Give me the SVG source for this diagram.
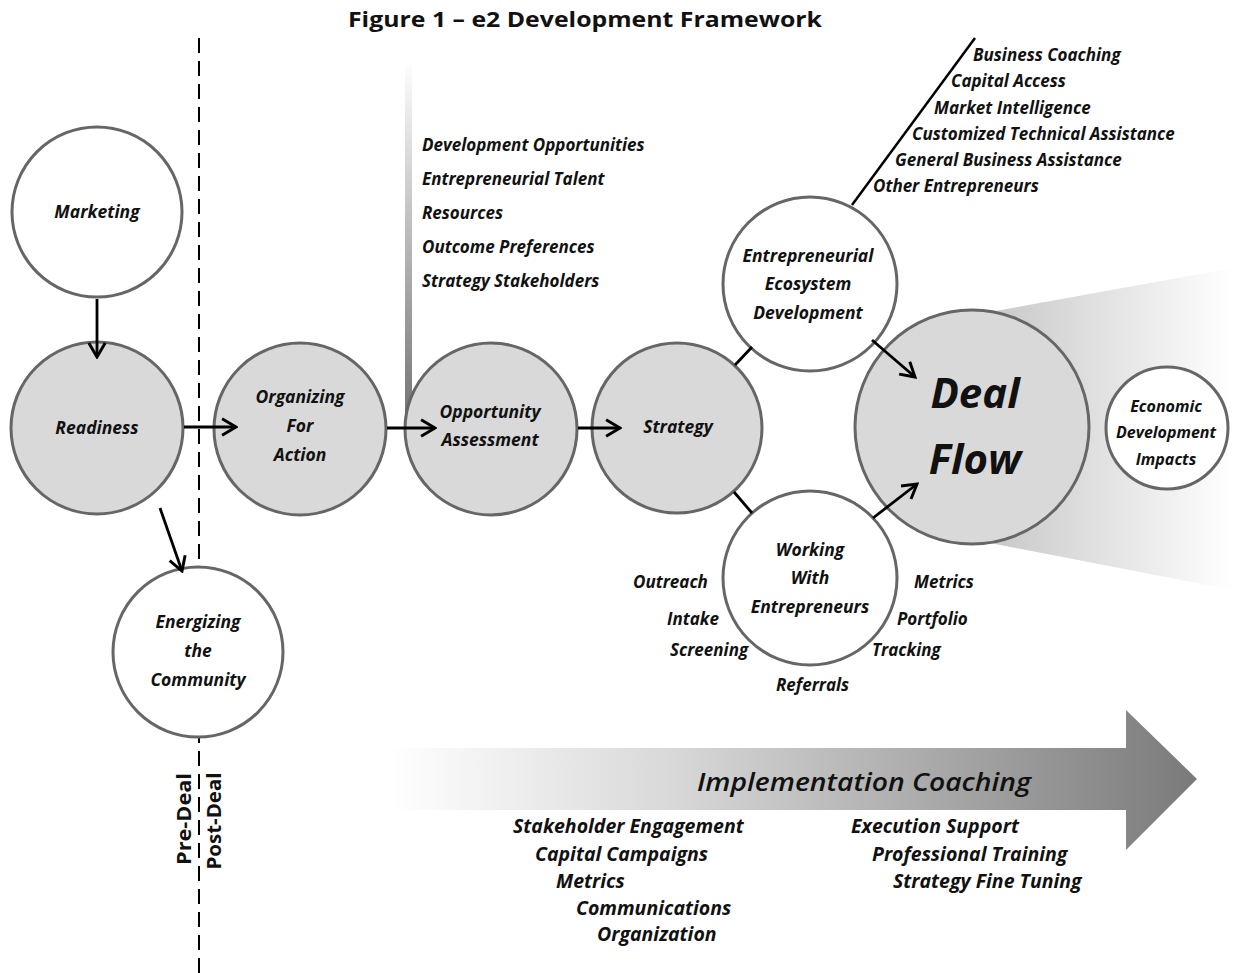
<svg xmlns="http://www.w3.org/2000/svg" width="1233" height="973" viewBox="0 0 1233 973">
<style>
.t{font-family:"Open Sans","Liberation Sans",sans-serif;font-weight:bold;font-style:italic;fill:#111;text-anchor:middle}
.s{font-size:17.5px}
.l{font-family:"Open Sans","Liberation Sans",sans-serif;font-weight:bold;font-style:italic;fill:#111;font-size:17px}
.b{font-size:19.5px}
.nw{fill:#fff;stroke:#666;stroke-width:3}
.ng{fill:#d9d9d9;stroke:#666;stroke-width:3}
.c{stroke:#000;stroke-width:2.8;fill:none}
.ca{stroke:#000;stroke-width:2.8;fill:none;marker-end:url(#ah)}
</style>
<defs>
<marker id="ah" viewBox="0 0 12 12" refX="10.5" refY="6" markerWidth="7" markerHeight="7" orient="auto" markerUnits="strokeWidth">
<path d="M2,1 L10.5,6 L2,11" fill="none" stroke="#000" stroke-width="1.8"/>
</marker>
<linearGradient id="vbar" x1="0" y1="0" x2="0" y2="1">
<stop offset="0" stop-color="#fff"/>
<stop offset="1" stop-color="#6f6f6f"/>
</linearGradient>
<linearGradient id="cone" x1="0" y1="0" x2="1" y2="0">
<stop offset="0" stop-color="#c8c8c8"/>
<stop offset="1" stop-color="#fff"/>
</linearGradient>
<linearGradient id="impl" x1="390" y1="0" x2="1197" y2="0" gradientUnits="userSpaceOnUse">
<stop offset="0" stop-color="#fff"/>
<stop offset="0.35" stop-color="#d8d8d8"/>
<stop offset="1" stop-color="#7a7a7a"/>
</linearGradient>
</defs>

<text x="585" y="27" font-family="'Open Sans','Liberation Sans',sans-serif" font-weight="bold" font-size="21" text-anchor="middle" fill="#111" textLength="474" lengthAdjust="spacingAndGlyphs">Figure 1 – e2 Development Framework</text>

<!-- background decorations -->
<g id="decor">
<polygon points="990,312 1233,268 1233,590 990,543" fill="url(#cone)"/>
<rect x="405" y="60" width="7" height="370" fill="url(#vbar)"/>
<line x1="199" y1="38" x2="199" y2="973" stroke="#000" stroke-width="2" stroke-dasharray="15,8"/>
<polygon points="390,748 1126,748 1126,710 1197,779 1126,850 1126,810 390,810" fill="url(#impl)"/>
<line x1="975" y1="38" x2="852" y2="205" stroke="#000" stroke-width="2.5"/>
</g>

<g id="marketing"><circle class="nw" cx="97" cy="212" r="85"/><text class="t s" x="97" y="218">Marketing</text></g>
<g id="readiness"><circle class="ng" cx="97" cy="428" r="86"/><text class="t s" x="97" y="434">Readiness</text></g>
<g id="organizing"><circle class="ng" cx="300" cy="429" r="86"/>
<text class="t s" x="300" y="403">Organizing</text><text class="t s" x="300" y="432">For</text><text class="t s" x="300" y="461">Action</text></g>
<g id="opportunity"><circle class="ng" cx="491" cy="429" r="86"/>
<text class="t s" x="490" y="418">Opportunity</text><text class="t s" x="490" y="446">Assessment</text></g>
<g id="strategy"><circle class="ng" cx="677" cy="428" r="85"/><text class="t s" x="678" y="433">Strategy</text></g>
<g id="ecosystem"><circle class="nw" cx="810" cy="284" r="87"/>
<text class="t s" x="808" y="262">Entrepreneurial</text><text class="t s" x="808" y="290">Ecosystem</text><text class="t s" x="808" y="319">Development</text></g>
<g id="working"><circle class="nw" cx="810" cy="578" r="87"/>
<text class="t s" x="810" y="556">Working</text><text class="t s" x="810" y="584">With</text><text class="t s" x="810" y="613">Entrepreneurs</text></g>
<g id="energizing"><circle class="nw" cx="198" cy="652" r="85"/>
<text class="t s" x="198" y="628">Energizing</text><text class="t s" x="198" y="657">the</text><text class="t s" x="198" y="686">Community</text></g>
<g id="dealflow"><circle class="ng" cx="972" cy="427" r="117"/>
<text class="t" x="975" y="408" font-size="42">Deal</text><text class="t" x="975" y="474" font-size="42">Flow</text></g>
<g id="impacts"><circle class="nw" cx="1167" cy="428" r="61"/>
<text class="t" x="1166" y="412" font-size="16" font-weight="600">Economic</text><text class="t" x="1166" y="438" font-size="16" font-weight="600">Development</text><text class="t" x="1166" y="465" font-size="16" font-weight="600">Impacts</text></g>

<!-- connectors -->
<g id="connectors">
<line class="ca" x1="97" y1="299" x2="97" y2="357"/>
<line class="ca" x1="184" y1="427" x2="236" y2="427"/>
<line class="ca" x1="387" y1="428" x2="435" y2="428"/>
<line class="ca" x1="578" y1="428" x2="620" y2="428"/>
<line class="ca" x1="160" y1="508" x2="182" y2="571"/>
<line class="c" x1="735" y1="365" x2="752" y2="347"/>
<line class="c" x1="734" y1="492" x2="752" y2="513"/>
<line class="ca" x1="872" y1="340" x2="915" y2="377"/>
<line class="ca" x1="873" y1="518" x2="917" y2="484"/>
</g>

<g id="opp-list">
<text class="l" x="422" y="151">Development Opportunities</text>
<text class="l" x="422" y="185">Entrepreneurial Talent</text>
<text class="l" x="422" y="219">Resources</text>
<text class="l" x="422" y="253">Outcome Preferences</text>
<text class="l" x="422" y="287">Strategy Stakeholders</text>
</g>

<g id="eco-list">
<text class="l" x="973" y="61">Business Coaching</text>
<text class="l" x="951" y="87">Capital Access</text>
<text class="l" x="934" y="114">Market Intelligence</text>
<text class="l" x="912" y="140">Customized Technical Assistance</text>
<text class="l" x="895" y="166">General Business Assistance</text>
<text class="l" x="873" y="192">Other Entrepreneurs</text>
</g>

<g id="work-list">
<text class="l s" x="633" y="588">Outreach</text>
<text class="l s" x="667" y="625">Intake</text>
<text class="l s" x="670" y="656">Screening</text>
<text class="l s" x="776" y="691">Referrals</text>
<text class="l s" x="914" y="588">Metrics</text>
<text class="l s" x="897" y="625">Portfolio</text>
<text class="l s" x="872" y="656">Tracking</text>
</g>

<g id="coaching">
<text x="864" y="791" font-family="'Open Sans','Liberation Sans',sans-serif" font-style="italic" font-weight="600" font-size="25" text-anchor="middle" fill="#111" textLength="334" lengthAdjust="spacingAndGlyphs">Implementation Coaching</text>
<text class="l b" x="513" y="833">Stakeholder  Engagement</text>
<text class="l b" x="535" y="861">Capital Campaigns</text>
<text class="l b" x="556" y="888">Metrics</text>
<text class="l b" x="576" y="915">Communications</text>
<text class="l b" x="597" y="941">Organization</text>
<text class="l b" x="851" y="833">Execution Support</text>
<text class="l b" x="872" y="861">Professional  Training</text>
<text class="l b" x="893" y="888">Strategy Fine  Tuning</text>
</g>

<g id="deal-labels" font-family="'Open Sans','Liberation Sans',sans-serif" font-weight="bold" font-size="20" fill="#111">
<text transform="translate(191,819) rotate(-90)" text-anchor="middle" textLength="92" lengthAdjust="spacingAndGlyphs">Pre-Deal</text>
<text transform="translate(221,821) rotate(-90)" text-anchor="middle" textLength="97" lengthAdjust="spacingAndGlyphs">Post-Deal</text>
</g>
</svg>
